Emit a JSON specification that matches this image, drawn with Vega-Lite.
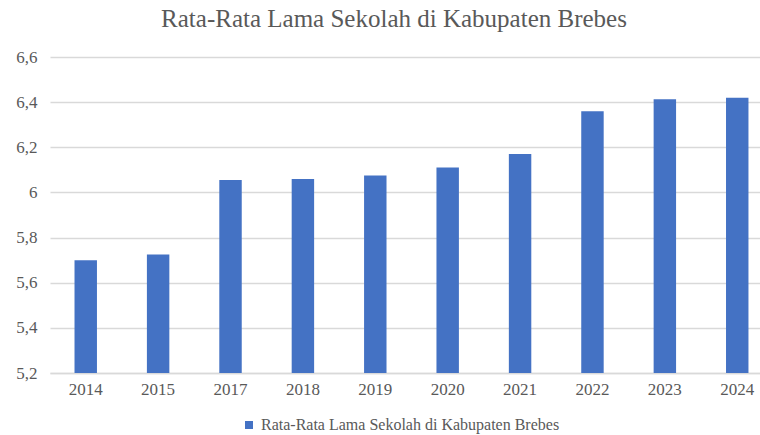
{
  "$schema": "https://vega.github.io/schema/vega-lite/v6.json",
  "width": 710,
  "height": 316,
  "autosize": {"type": "none"},
  "padding": {"left": 50, "top": 57, "right": 0, "bottom": 62},
  "background": "white",
  "title": {
    "text": "Rata-Rata Lama Sekolah di Kabupaten Brebes",
    "font": "Liberation Serif, Times New Roman, serif",
    "fontSize": 25,
    "fontWeight": "normal",
    "color": "#595959",
    "offset": 16,
    "dx": -11
  },
  "data": {
    "values": [
      {"year": "2014", "value": 5.70, "series": "Rata-Rata Lama Sekolah di Kabupaten Brebes"},
      {"year": "2015", "value": 5.725, "series": "Rata-Rata Lama Sekolah di Kabupaten Brebes"},
      {"year": "2017", "value": 6.055, "series": "Rata-Rata Lama Sekolah di Kabupaten Brebes"},
      {"year": "2018", "value": 6.06, "series": "Rata-Rata Lama Sekolah di Kabupaten Brebes"},
      {"year": "2019", "value": 6.075, "series": "Rata-Rata Lama Sekolah di Kabupaten Brebes"},
      {"year": "2020", "value": 6.11, "series": "Rata-Rata Lama Sekolah di Kabupaten Brebes"},
      {"year": "2021", "value": 6.17, "series": "Rata-Rata Lama Sekolah di Kabupaten Brebes"},
      {"year": "2022", "value": 6.36, "series": "Rata-Rata Lama Sekolah di Kabupaten Brebes"},
      {"year": "2023", "value": 6.413, "series": "Rata-Rata Lama Sekolah di Kabupaten Brebes"},
      {"year": "2024", "value": 6.42, "series": "Rata-Rata Lama Sekolah di Kabupaten Brebes"}
    ]
  },
  "mark": {"type": "bar", "clip": true},
  "encoding": {
    "x": {
      "field": "year",
      "type": "nominal",
      "sort": null,
      "scale": {"paddingInner": 0.69, "paddingOuter": 0.249, "align": 0.68},
      "axis": {
        "title": null,
        "labelAngle": 0,
        "domain": true,
        "domainColor": "#d9d9d9",
        "domainWidth": 1.5,
        "ticks": false,
        "grid": false,
        "labelFont": "Liberation Serif, Times New Roman, serif",
        "labelFontSize": 17,
        "labelColor": "#595959",
        "labelPadding": 8
      }
    },
    "y": {
      "field": "value",
      "type": "quantitative",
      "scale": {"domain": [5.2, 6.6], "zero": false, "nice": false},
      "axis": {
        "title": null,
        "values": [5.2, 5.4, 5.6, 5.8, 6.0, 6.2, 6.4, 6.6],
        "labelExpr": "replace(format(datum.value, '.1~f'), '.', ',')",
        "domain": false,
        "ticks": false,
        "grid": true,
        "gridColor": "#d9d9d9",
        "gridWidth": 1.5,
        "labelFont": "Liberation Serif, Times New Roman, serif",
        "labelFontSize": 17,
        "labelColor": "#595959",
        "labelPadding": 13
      }
    },
    "y2": {"datum": 5.2},
    "color": {
      "field": "series",
      "type": "nominal",
      "scale": {"range": ["#4472C4"]},
      "legend": {
        "title": null,
        "orient": "none",
        "legendX": 191,
        "legendY": 360,
        "symbolType": "square",
        "symbolSize": 64,
        "symbolStrokeWidth": 0,
        "labelFont": "Liberation Serif, Times New Roman, serif",
        "labelFontSize": 16,
        "labelColor": "#595959",
        "labelOffset": 4,
        "labelLimit": 0
      }
    }
  },
  "config": {"view": {"stroke": null}}
}
